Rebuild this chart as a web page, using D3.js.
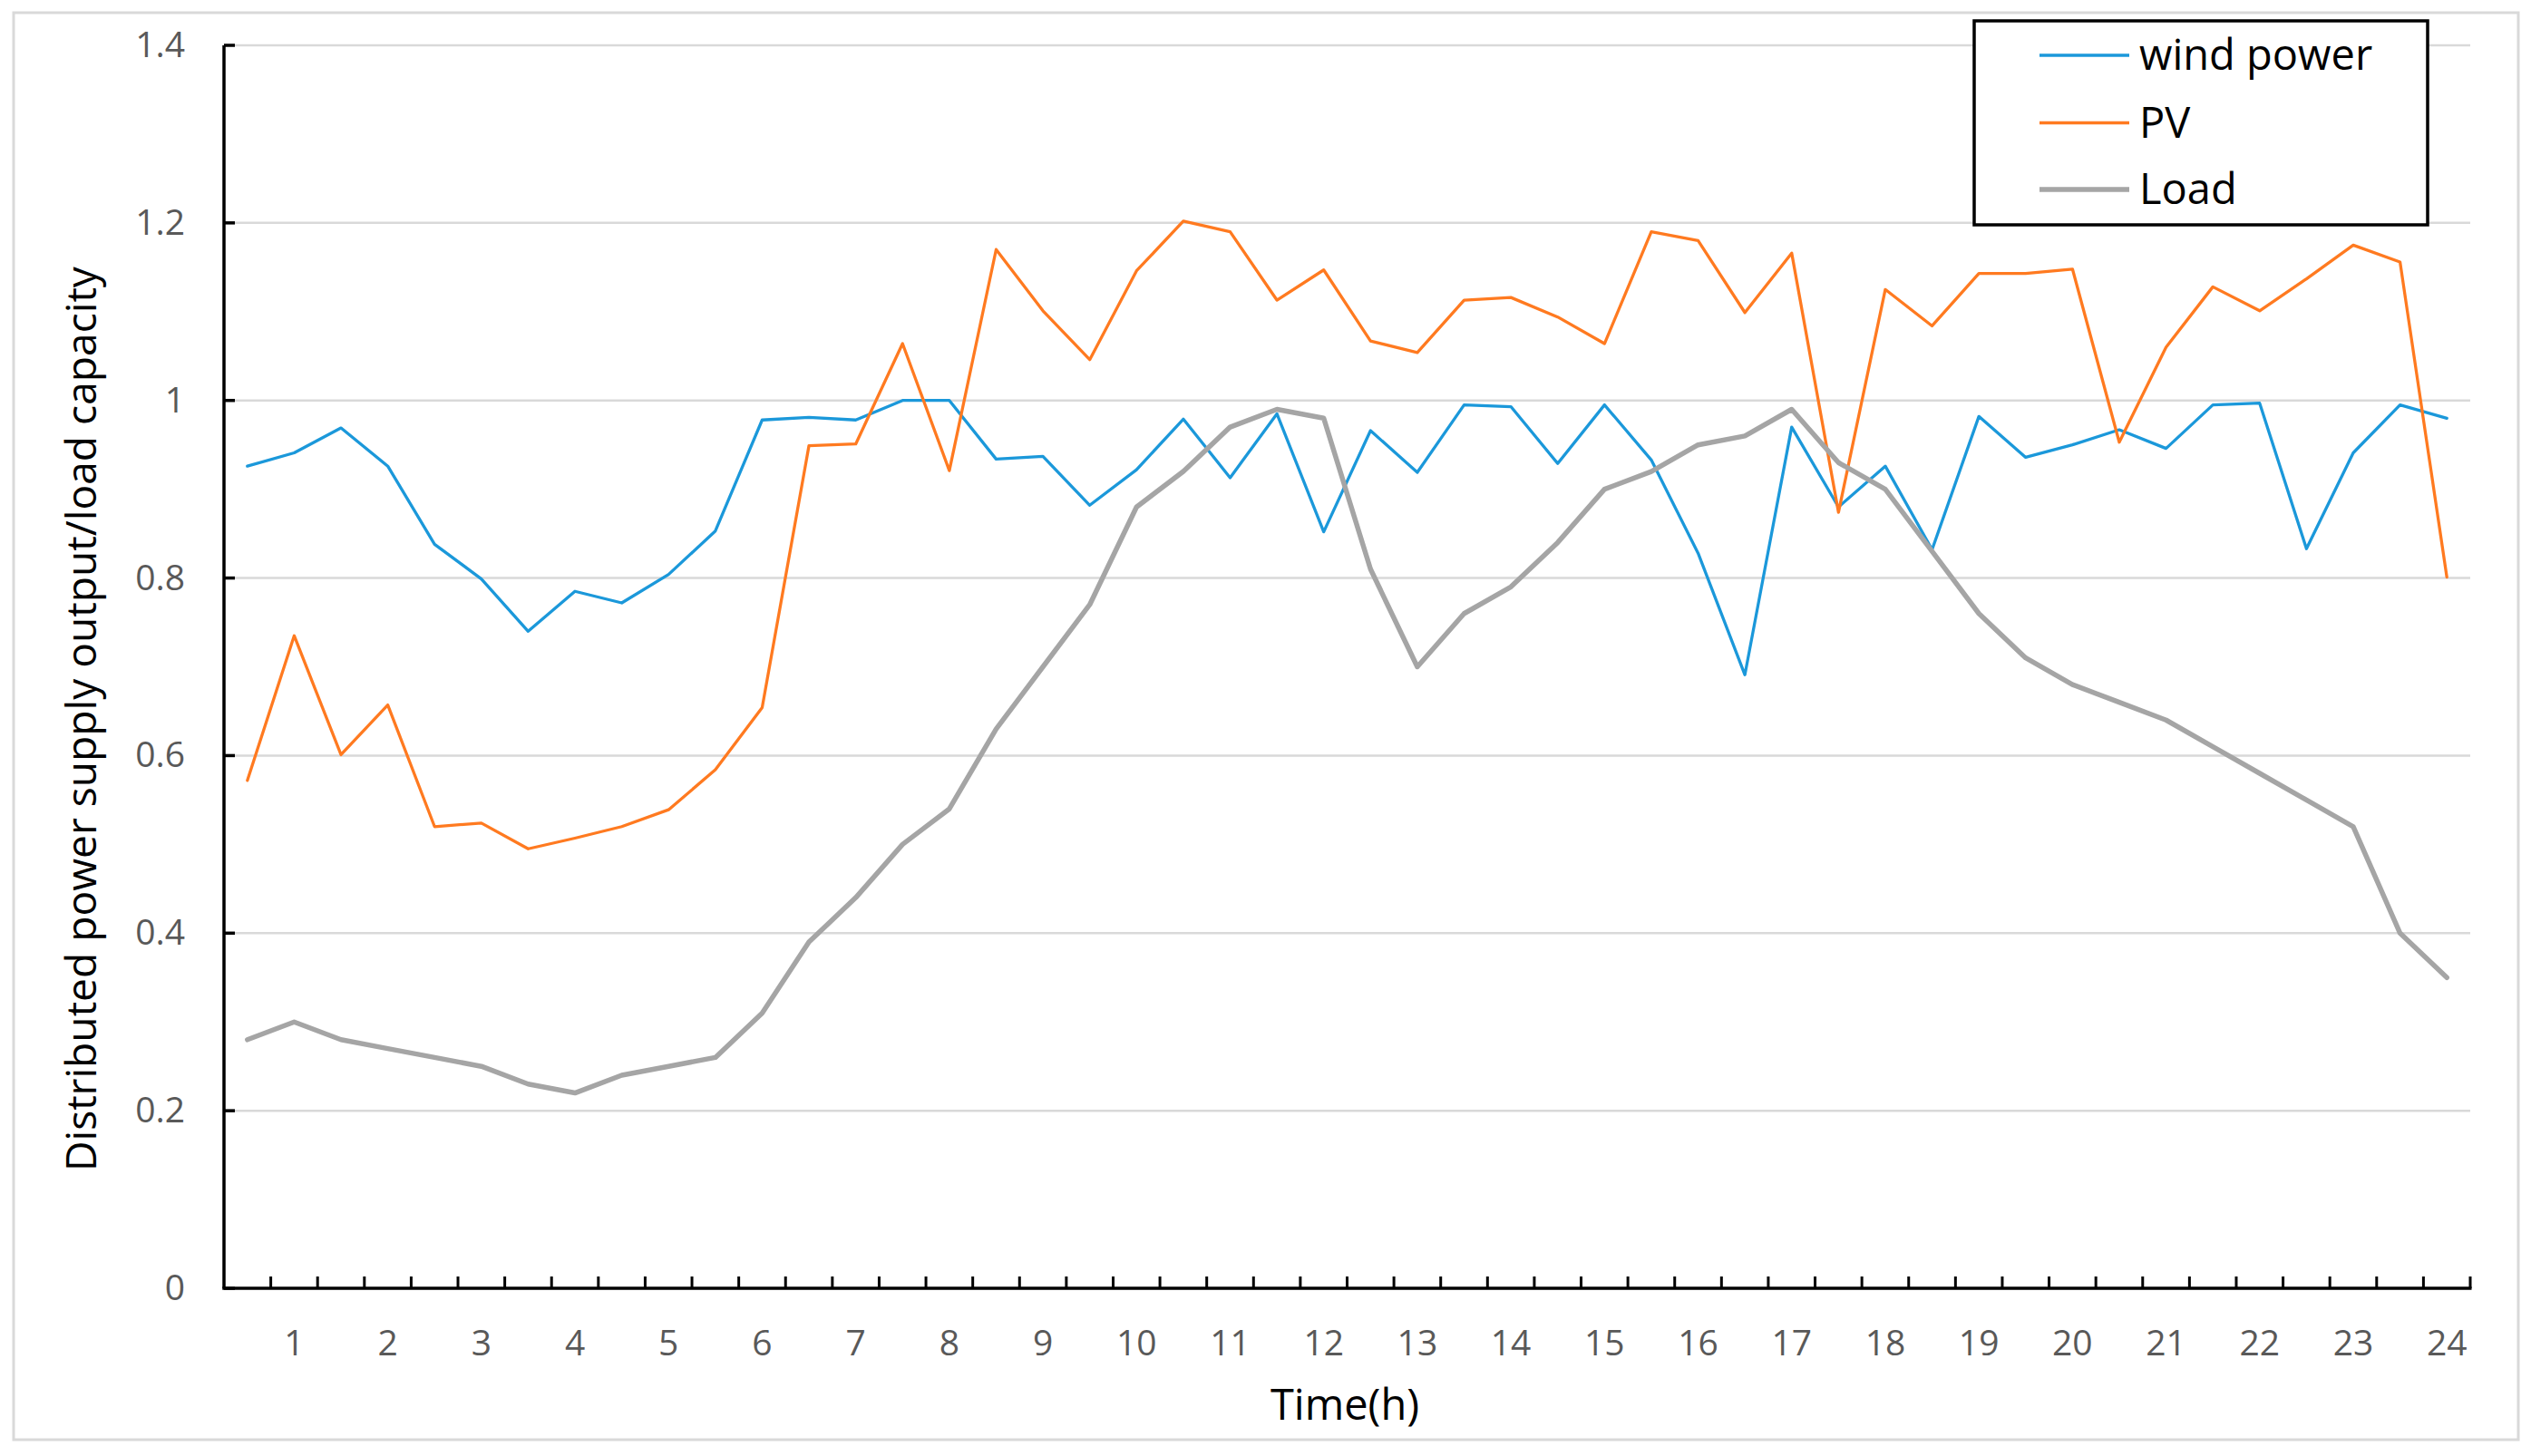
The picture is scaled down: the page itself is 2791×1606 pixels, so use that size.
<!DOCTYPE html>
<html>
<head>
<meta charset="utf-8">
<script src="https://cdn.jsdelivr.net/npm/d3@7"></script>
<style>
  html, body { margin: 0; padding: 0; background: #fff; }
  svg { display: block; }
  text { font-family: "Open Sans", sans-serif; }
</style>
</head>
<body>
<svg id="chart" width="2791" height="1606"></svg>
<script>
// ---- Data ----
const times = ["0.5","1","1.5","2","2.5","3","3.5","4","4.5","5","5.5","6","6.5","7","7.5","8",
  "8.5","9","9.5","10","10.5","11","11.5","12","12.5","13","13.5","14","14.5","15","15.5","16",
  "16.5","17","17.5","18","18.5","19","19.5","20","20.5","21","21.5","22","22.5","23","23.5","24"];

const windPower = [0.926,0.941,0.969,0.926,0.838,0.799,0.740,0.785,0.772,0.804,
  0.853,0.978,0.981,0.978,1.000,1.000,0.934,0.937,0.882,0.922,
  0.979,0.913,0.985,0.852,0.966,0.919,0.995,0.993,0.929,0.995,
  0.933,0.828,0.691,0.970,0.880,0.926,0.832,0.982,0.936,0.950,
  0.967,0.946,0.995,0.997,0.833,0.941,0.995,0.980];

const pv = [0.572,0.735,0.601,0.657,0.520,0.524,0.495,0.507,0.520,0.539,
  0.584,0.654,0.949,0.951,1.064,0.921,1.170,1.101,1.046,1.146,
  1.202,1.190,1.113,1.147,1.067,1.054,1.113,1.116,1.094,1.064,
  1.190,1.180,1.099,1.166,0.874,1.125,1.084,1.143,1.143,1.148,
  0.953,1.060,1.128,1.101,1.137,1.175,1.156,0.801];

const load = [0.28,0.30,0.28,0.27,0.26,0.25,0.23,0.22,0.24,0.25,
  0.26,0.31,0.39,0.44,0.50,0.54,0.63,0.70,0.77,0.88,
  0.92,0.97,0.99,0.98,0.81,0.70,0.76,0.79,0.84,0.90,
  0.92,0.95,0.96,0.99,0.93,0.90,0.83,0.76,0.71,0.68,
  0.66,0.64,0.61,0.58,0.55,0.52,0.40,0.35];

const yTicks = [0, 0.2, 0.4, 0.6, 0.8, 1, 1.2, 1.4];
const xLabelTimes = ["1","2","3","4","5","6","7","8","9","10","11","12","13","14","15","16","17","18","19","20","21","22","23","24"];

const seriesNames = ["wind power", "PV", "Load"];
const seriesColors = ["#1B98DA", "#FF7A20", "#A5A5A5"];
const seriesWidths = [3.3, 3.3, 5.5];

// ---- Layout ----
const svg = d3.select("#chart");
const plotLeft = 247, plotRight = 2724, plotTop = 50, plotBottom = 1421;

const x = d3.scaleBand().domain(times).range([plotLeft, plotRight]).paddingInner(0).paddingOuter(0);
const y = d3.scaleLinear().domain([0, 1.4]).range([plotBottom, plotTop]);

// outer border
svg.append("rect")
  .attr("x", 15).attr("y", 14).attr("width", 2762).attr("height", 1574)
  .attr("fill", "#fff").attr("stroke", "#D9D9D9").attr("stroke-width", 3);

// gridlines
svg.append("g").selectAll("line")
  .data(yTicks.filter(d => d > 0))
  .join("line")
  .attr("x1", plotLeft).attr("x2", plotRight)
  .attr("y1", d => y(d)).attr("y2", d => y(d))
  .attr("stroke", "#D9D9D9").attr("stroke-width", 2.5);

// y tick labels via axis
const yAxis = d3.axisLeft(y).tickValues(yTicks).tickSize(0).tickPadding(43)
  .tickFormat(d => String(+d.toFixed(1)));
const gy = svg.append("g").attr("transform", `translate(${plotLeft},0)`).call(yAxis);
gy.select(".domain").remove();
gy.selectAll("text").attr("font-size", 39).attr("fill", "#595959")
  .attr("font-family", "Open Sans, sans-serif");

// x tick labels via axis (labels only at whole hours)
const xAxis = d3.axisBottom(x).tickValues(xLabelTimes).tickSize(0).tickPadding(46);
const gx = svg.append("g").attr("transform", `translate(0,${plotBottom})`).call(xAxis);
gx.select(".domain").remove();
gx.selectAll("text").attr("font-size", 39).attr("fill", "#595959")
  .attr("font-family", "Open Sans, sans-serif");

// series lines
const allSeries = [windPower, pv, load];
const line = d3.line()
  .x((d, i) => x(times[i]) + x.bandwidth() / 2)
  .y(d => y(d));

[0, 1, 2].forEach(k => {
  svg.append("path")
    .datum(allSeries[k])
    .attr("d", line)
    .attr("fill", "none")
    .attr("stroke", seriesColors[k])
    .attr("stroke-width", seriesWidths[k])
    .attr("stroke-linejoin", "round")
    .attr("stroke-linecap", "round");
});

// axes lines
svg.append("line").attr("x1", plotLeft).attr("x2", plotLeft).attr("y1", plotTop).attr("y2", plotBottom)
  .attr("stroke", "#000").attr("stroke-width", 3.5);
svg.append("line").attr("x1", plotLeft - 1.75).attr("x2", plotRight + 1.5).attr("y1", plotBottom).attr("y2", plotBottom)
  .attr("stroke", "#000").attr("stroke-width", 3.5);

// y tick marks (inside)
svg.append("g").selectAll("line").data(yTicks).join("line")
  .attr("x1", plotLeft).attr("x2", plotLeft + 12)
  .attr("y1", d => y(d)).attr("y2", d => y(d))
  .attr("stroke", "#000").attr("stroke-width", 3.5);

// x tick marks at category boundaries (inside)
const boundaries = times.map(t => x(t)).concat([plotRight]);
svg.append("g").selectAll("line").data(boundaries.slice(1)).join("line")
  .attr("x1", d => d).attr("x2", d => d)
  .attr("y1", plotBottom).attr("y2", plotBottom - 13)
  .attr("stroke", "#000").attr("stroke-width", 3);

// axis titles
svg.append("text")
  .attr("x", 1483).attr("y", 1566)
  .attr("text-anchor", "middle")
  .attr("font-size", 47).attr("fill", "#000")
  .text("Time(h)");

svg.append("text")
  .attr("transform", "translate(106,793) rotate(-90)")
  .attr("text-anchor", "middle")
  .attr("font-size", 45).attr("fill", "#000")
  .attr("textLength", 998).attr("lengthAdjust", "spacingAndGlyphs")
  .text("Distributed power supply output/load capacity");

// legend
const lg = svg.append("g");
lg.append("rect")
  .attr("x", 2177).attr("y", 23).attr("width", 500).attr("height", 225)
  .attr("fill", "#fff").attr("stroke", "#000").attr("stroke-width", 3.5);
const legendY = [61, 135.5, 209];
seriesNames.forEach((name, k) => {
  lg.append("line")
    .attr("x1", 2249).attr("x2", 2348)
    .attr("y1", legendY[k]).attr("y2", legendY[k])
    .attr("stroke", seriesColors[k]).attr("stroke-width", seriesWidths[k]);
  lg.append("text")
    .attr("x", 2359).attr("y", legendY[k] + 16)
    .attr("font-size", 47).attr("fill", "#000")
    .text(name);
});
</script>
</body>
</html>
